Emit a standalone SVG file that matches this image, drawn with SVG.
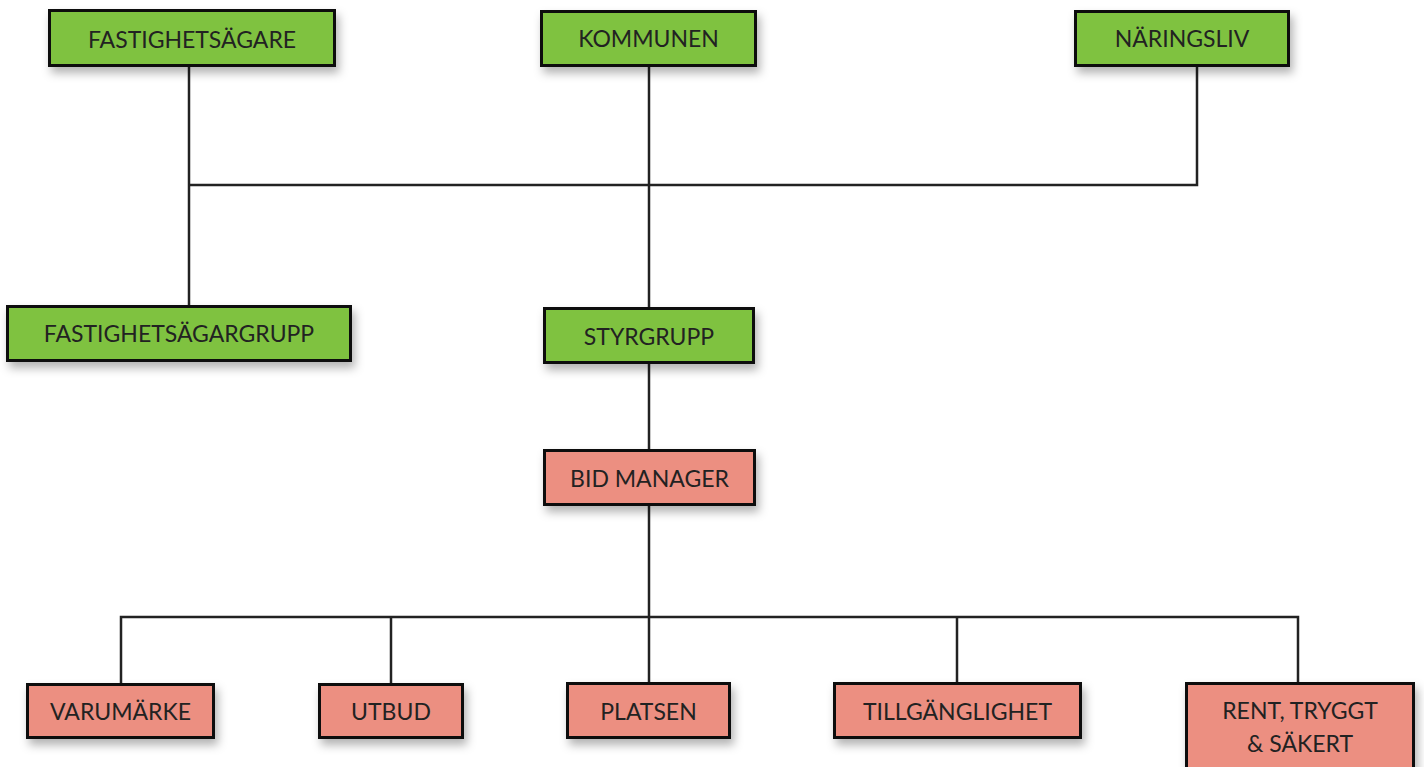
<svg xmlns="http://www.w3.org/2000/svg" width="1424" height="767" viewBox="0 0 1424 767">
  <defs>
    <filter id="shadow" x="-10%" y="-20%" width="130%" height="170%">
      <feDropShadow dx="3" dy="6" stdDeviation="5" flood-color="#000" flood-opacity="0.3"/>
    </filter>
  </defs>
  <style>
    .box { stroke: #111; stroke-width: 3; filter: url(#shadow); }
    .green { fill: #7fc241; }
    .pink { fill: #ec8f81; }
    .lbl { font-family: Lato, "Liberation Sans", sans-serif; font-size: 23px; fill: #222; text-anchor: middle; }
    .conn { stroke: #222; stroke-width: 2.5; fill: none; }
  </style>
  <rect width="1424" height="767" fill="#fff"/>
  <g id="connectors">
    <path class="conn" d="M189,67 V305"/>
    <path class="conn" d="M649,67 V307"/>
    <path class="conn" d="M1197,67 V185 H189"/>
    <path class="conn" d="M649,364 V449"/>
    <path class="conn" d="M649,506 V682"/>
    <path class="conn" d="M121,683 V617 H1298 V682"/>
    <path class="conn" d="M391,617 V683"/>
    <path class="conn" d="M957,617 V682"/>
  </g>
  <g id="fastighetsagare">
    <rect class="box green" x="49.5" y="10.5" width="285" height="55"/>
    <text class="lbl" x="192" y="47.5">FASTIGHETSÄGARE</text>
  </g>
  <g id="kommunen">
    <rect class="box green" x="541.5" y="11.5" width="214" height="54"/>
    <text class="lbl" x="648.5" y="47">KOMMUNEN</text>
  </g>
  <g id="naringsliv">
    <rect class="box green" x="1075.5" y="11.5" width="213" height="54"/>
    <text class="lbl" x="1182" y="47">NÄRINGSLIV</text>
  </g>
  <g id="fastighetsagargrupp">
    <rect class="box green" x="7.5" y="306.5" width="343" height="54"/>
    <text class="lbl" x="179" y="342">FASTIGHETSÄGARGRUPP</text>
  </g>
  <g id="styrgrupp">
    <rect class="box green" x="544.5" y="308.5" width="209" height="54"/>
    <text class="lbl" x="649" y="345">STYRGRUPP</text>
  </g>
  <g id="bidmanager">
    <rect class="box pink" x="544.5" y="450.5" width="210" height="54"/>
    <text class="lbl" x="649.5" y="486.5">BID MANAGER</text>
  </g>
  <g id="varumarke">
    <rect class="box pink" x="27.5" y="684.5" width="186" height="53"/>
    <text class="lbl" x="120.5" y="719.5">VARUMÄRKE</text>
  </g>
  <g id="utbud">
    <rect class="box pink" x="319.5" y="684.5" width="143" height="53"/>
    <text class="lbl" x="391" y="719.5">UTBUD</text>
  </g>
  <g id="platsen">
    <rect class="box pink" x="567.5" y="683.5" width="162" height="54"/>
    <text class="lbl" x="648.5" y="719.5">PLATSEN</text>
  </g>
  <g id="tillganglighet">
    <rect class="box pink" x="834.5" y="683.5" width="246" height="54"/>
    <text class="lbl" x="957.5" y="719.5">TILLGÄNGLIGHET</text>
  </g>
  <g id="rent">
    <rect class="box pink" x="1186.5" y="683.5" width="227" height="100"/>
    <text class="lbl" x="1300" y="719">RENT, TRYGGT</text>
    <text class="lbl" x="1300" y="752">&amp; SÄKERT</text>
  </g>
</svg>
